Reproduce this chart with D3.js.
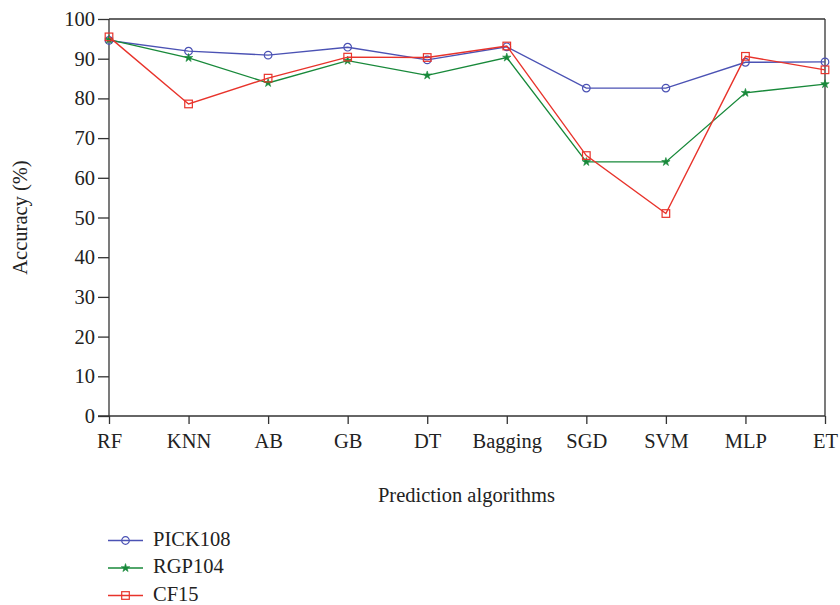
<!DOCTYPE html>
<html>
<head>
<meta charset="utf-8">
<script src="https://cdn.jsdelivr.net/npm/d3@7"></script>
<style>
  body { margin: 0; background: #fff; }
  svg text { font-family: "Liberation Serif", "DejaVu Serif", serif; fill: #222; }
</style>
</head>
<body>
<svg id="chart" width="840" height="605"></svg>
<script>
var algorithms = ["RF", "KNN", "AB", "GB", "DT", "Bagging", "SGD", "SVM", "MLP", "ET"];
var pick108 = [94.6, 91.9, 90.9, 92.9, 89.7, 93.0, 82.6, 82.6, 89.1, 89.2];
var rgp104  = [94.8, 90.2, 83.9, 89.5, 85.8, 90.3, 64.0, 64.0, 81.4, 83.6];
var cf15    = [95.5, 78.6, 85.1, 90.4, 90.3, 93.2, 65.6, 51.0, 90.6, 87.2];
var yTicks  = [0, 10, 20, 30, 40, 50, 60, 70, 80, 90, 100];

var series = [
  { name: "PICK108", values: pick108, color: "#4b52b4", marker: "circle" },
  { name: "RGP104",  values: rgp104,  color: "#18893a", marker: "star" },
  { name: "CF15",    values: cf15,    color: "#e8332b", marker: "square" }
];

var svg = d3.select("#chart");
var plotL = 109, plotR = 825, plotT = 19, plotB = 416;
var fs = "20.5px";

var x = d3.scalePoint().domain(algorithms).range([plotL, plotR]);
var y = d3.scaleLinear().domain([0, 100]).range([plotB, plotT]);

// frame
svg.append("line").attr("x1", plotL).attr("x2", plotR).attr("y1", plotT).attr("y2", plotT)
  .attr("stroke", "#333").attr("stroke-width", 1.3);
svg.append("line").attr("x1", plotR).attr("x2", plotR).attr("y1", plotT).attr("y2", plotB)
  .attr("stroke", "#333").attr("stroke-width", 1.3);

var yAxis = svg.append("g").attr("transform", "translate(" + plotL + ",0)")
  .call(d3.axisLeft(y).tickValues(yTicks).tickSize(11).tickPadding(3));
var xAxis = svg.append("g").attr("transform", "translate(0," + plotB + ")")
  .call(d3.axisBottom(x).tickSize(8).tickPadding(9));

[yAxis, xAxis].forEach(function(g) {
  g.select(".domain").attr("stroke", "#333").attr("stroke-width", 1.3);
  g.selectAll(".tick line").attr("stroke", "#333").attr("stroke-width", 1.3);
  g.selectAll("text").style("font-size", fs).attr("fill", "#222");
});
// extend domains to the corners
yAxis.select(".domain").attr("d", "M0," + plotT + "V" + plotB);
xAxis.select(".domain").attr("d", "M" + (plotL - 11) + ",0H" + plotR);

svg.append("text").attr("transform", "translate(27," + ((plotT + plotB) / 2) + ") rotate(-90)")
  .attr("text-anchor", "middle").style("font-size", fs).text("Accuracy (%)");
svg.append("text").attr("x", (plotL + plotR) / 2 - 0.5).attr("y", 502)
  .attr("text-anchor", "middle").style("font-size", fs).text("Prediction algorithms");

function drawMarker(g, type, color) {
  if (type === "circle") {
    g.append("circle").attr("r", 3.8).attr("fill", "none").attr("stroke", color).attr("stroke-width", 1.2);
  } else if (type === "square") {
    g.append("rect").attr("x", -3.8).attr("y", -3.8).attr("width", 7.6).attr("height", 7.6)
      .attr("fill", "none").attr("stroke", color).attr("stroke-width", 1.2);
  } else {
    g.append("path").attr("d", d3.symbol().type(d3.symbolStar).size(22)())
      .attr("fill", color).attr("stroke", color).attr("stroke-width", 0.6);
  }
}

var line = d3.line().x(function(d, i) { return x(algorithms[i]); }).y(function(d) { return y(d); });

series.forEach(function(s) {
  svg.append("path").datum(s.values).attr("d", line)
    .attr("fill", "none").attr("stroke", s.color).attr("stroke-width", 1.4);
  s.values.forEach(function(v, i) {
    var g = svg.append("g").attr("transform", "translate(" + x(algorithms[i]) + "," + y(v) + ")");
    drawMarker(g, s.marker, s.color);
  });
});

// legend
series.forEach(function(s, i) {
  var ly = 540.5 + i * 27.5;
  svg.append("line").attr("x1", 108).attr("x2", 143).attr("y1", ly).attr("y2", ly)
    .attr("stroke", s.color).attr("stroke-width", 1.4);
  var g = svg.append("g").attr("transform", "translate(125.5," + ly + ")");
  drawMarker(g, s.marker, s.color);
  svg.append("text").attr("x", 153).attr("y", ly + 5).style("font-size", fs).text(s.name);
});
</script>
</body>
</html>
